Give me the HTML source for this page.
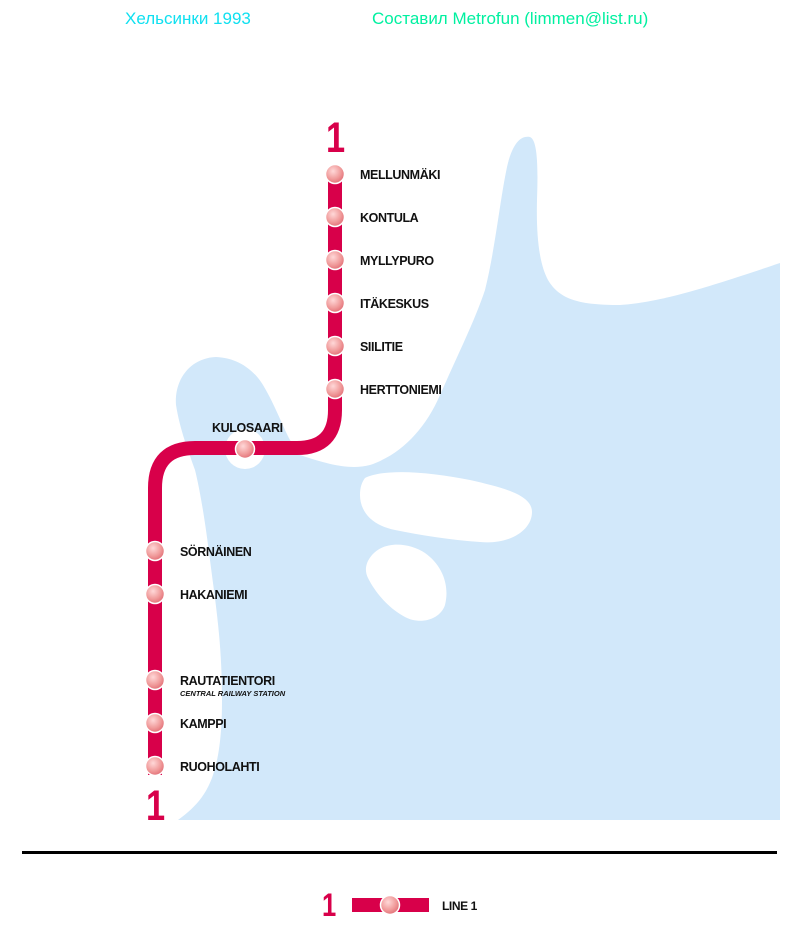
<!DOCTYPE html>
<html><head><meta charset="utf-8"><style>
html,body{margin:0;padding:0;background:#fff;}
svg{display:block;}
.st{font-family:"Liberation Sans",sans-serif;font-size:12.5px;font-weight:bold;fill:#111;letter-spacing:-0.4px;}
</style></head><body>
<svg width="800" height="950" viewBox="0 0 800 950" xmlns="http://www.w3.org/2000/svg">
<defs>
<radialGradient id="g" cx="0.4" cy="0.35" r="0.7">
<stop offset="0" stop-color="#ffd8d8"/><stop offset="0.6" stop-color="#f09a9a"/><stop offset="1" stop-color="#e06a72"/>
</radialGradient>
</defs>
<text x="125" y="24" font-family="'Liberation Sans','DejaVu Sans',sans-serif" font-size="17" fill="#10e0f0">Хельсинки 1993</text>
<text x="372" y="24" font-family="'Liberation Sans','DejaVu Sans',sans-serif" font-size="17" fill="#00f0a0">Составил Metrofun (limmen@list.ru)</text>

<path fill="#d2e8fa" d="M178,820 C205,800 222,780 222,700 C222,640 215,600 210,560 C205,520 200,490 195,470 C188,450 180,430 176,405 C174,380 190,358 216,357 C240,358 255,372 263,385 C275,405 282,425 290,440 L300,455 C330,465 350,470 370,465 C400,455 425,430 440,395 C460,350 475,320 485,290 C495,250 500,200 507,167 C512,145 520,135 530,137 C538,140 538,170 537,200 C536,240 540,265 548,280 C560,300 580,305 620,305 C660,302 700,290 780,263 L780,820 Z"/>
<path fill="#fff" d="M365,478 C385,468 430,472 470,480 C505,488 532,495 532,512 C532,530 510,545 480,542 C450,540 420,535 395,530 C370,525 360,510 360,495 C360,487 362,482 365,478 Z"/>
<path fill="#fff" d="M372,555 C385,540 410,543 425,553 C442,565 450,585 445,605 C440,620 420,625 405,617 C388,608 375,592 368,578 C364,570 366,562 372,555 Z"/>
<circle cx="245" cy="449" r="20" fill="#fff"/>

<path d="M335,174 L335,410 Q335,448 297,448 L195,448 Q155,448 155,488 L155,775" fill="none" stroke="#d8004a" stroke-width="14"/>

<g stroke="#fff" stroke-width="1.5" fill="url(#g)">
<circle cx="335" cy="174" r="9.5"/><circle cx="335" cy="217" r="9.5"/><circle cx="335" cy="260" r="9.5"/>
<circle cx="335" cy="303" r="9.5"/><circle cx="335" cy="346" r="9.5"/><circle cx="335" cy="389" r="9.5"/>
<circle cx="245" cy="449" r="9.5"/>
<circle cx="155" cy="551" r="9.5"/><circle cx="155" cy="594" r="9.5"/><circle cx="155" cy="680" r="9.5"/>
<circle cx="155" cy="723" r="9.5"/><circle cx="155" cy="766" r="9.5"/>
</g>

<text transform="translate(326,152) scale(0.8,1)" font-family="'Liberation Sans',sans-serif" font-weight="bold" font-size="43" fill="#d8004a">1</text>
<text transform="translate(146,820) scale(0.8,1)" font-family="'Liberation Sans',sans-serif" font-weight="bold" font-size="43" fill="#d8004a">1</text>

<text class="st" x="360" y="179">MELLUNMÄKI</text>
<text class="st" x="360" y="222">KONTULA</text>
<text class="st" x="360" y="265">MYLLYPURO</text>
<text class="st" x="360" y="308">ITÄKESKUS</text>
<text class="st" x="360" y="351">SIILITIE</text>
<text class="st" x="360" y="394">HERTTONIEMI</text>
<text class="st" x="212" y="432">KULOSAARI</text>
<text class="st" x="180" y="556">SÖRNÄINEN</text>
<text class="st" x="180" y="599">HAKANIEMI</text>
<text class="st" x="180" y="685">RAUTATIENTORI</text>
<text x="180" y="696" font-family="'Liberation Sans',sans-serif" font-size="7.5" font-style="italic" font-weight="bold" fill="#111">CENTRAL RAILWAY STATION</text>
<text class="st" x="180" y="728">KAMPPI</text>
<text class="st" x="180" y="771">RUOHOLAHTI</text>

<rect x="22" y="851" width="755" height="3" fill="#000"/>

<text transform="translate(322,916) scale(0.8,1)" font-family="'Liberation Sans',sans-serif" font-weight="bold" font-size="32" fill="#d8004a">1</text>
<rect x="352" y="898" width="77" height="14" fill="#d8004a"/>
<circle cx="390" cy="905" r="9.5" fill="url(#g)" stroke="#fff" stroke-width="1.5"/>
<text class="st" x="442" y="910" style="font-size:12px">LINE 1</text>
</svg>
</body></html>
